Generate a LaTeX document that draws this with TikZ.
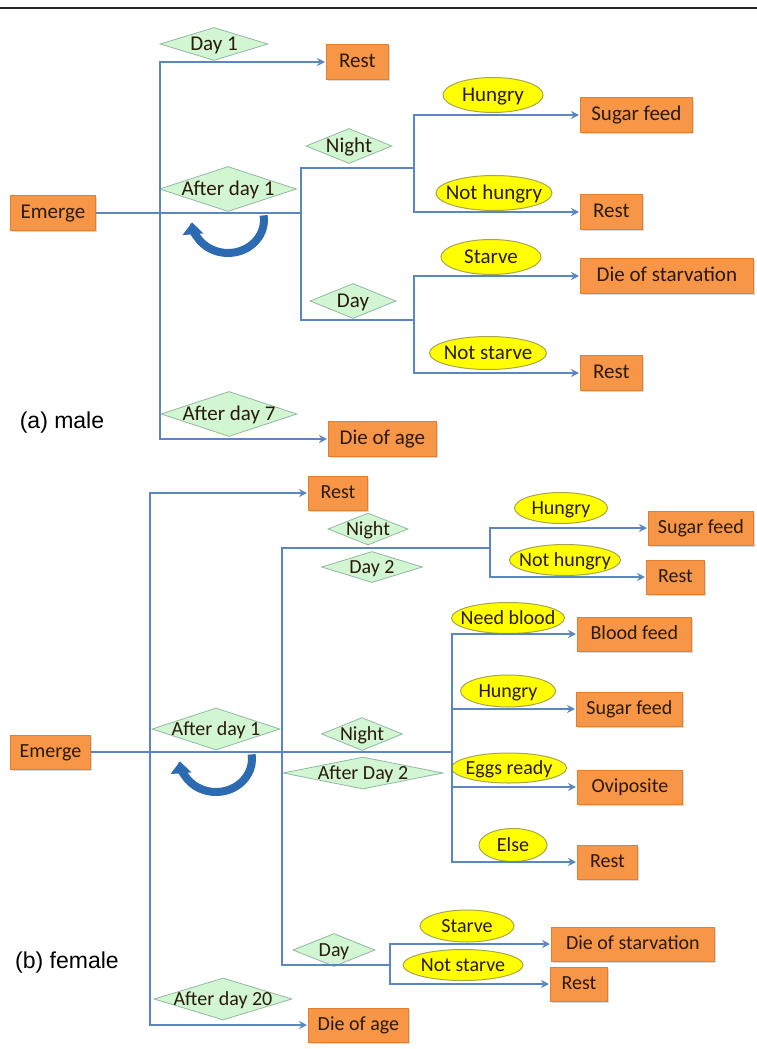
\documentclass[tikz,border=0pt]{standalone}
\usepackage{fontspec}
\setmainfont{Carlito}
\newfontfamily\capfont{Liberation Sans}
\usepackage{tikz}
\usepackage{xcolor}
\usetikzlibrary{shapes.geometric,arrows.meta,shadows}

\definecolor{boxorange}{HTML}{F79646}
\definecolor{boxedge}{HTML}{E3802F}
\definecolor{condgreen}{HTML}{D2F5D2}
\definecolor{condedge}{HTML}{92B8A4}
\definecolor{askyellow}{HTML}{FFFF00}
\definecolor{askedge}{HTML}{A6A64C}
\definecolor{flowblue}{HTML}{5A86C2}
\definecolor{loopblue}{HTML}{2C6AB2}
\definecolor{inktext}{HTML}{2A1A0C}

\newcommand{\zw}[1]{\makebox[0pt]{#1}}

\tikzset{
  act/.style={rectangle, fill=boxorange, draw=boxedge, line width=0.8pt, anchor=west,
    minimum height=35pt, inner sep=0pt, text=inktext, text height=14pt, text depth=4pt,
    drop shadow={shadow xshift=1.5pt, shadow yshift=-1.5pt, opacity=0.3}},
  cond/.style 2 args={diamond, fill=condgreen, draw=condedge, line width=0.8pt, inner sep=0pt,
    minimum width=#1, minimum height=#2, text=inktext, text height=13pt, text depth=0pt},
  ask/.style 2 args={ellipse, fill=askyellow, draw=askedge, line width=1pt, inner sep=0pt,
    minimum width=#1, minimum height=#2, text=inktext, text height=13pt, text depth=0pt},
  link/.style={flowblue, line width=1.8pt},
  arr/.style={link, shorten >=1pt, -{Stealth[length=8pt,width=8pt]}},
  back/.style={loopblue, line width=8pt, -{Triangle[length=12pt,width=20pt]}},
  capt/.style={font=\capfont\fontsize{23}{26}\selectfont}
}

\begin{document}
\begin{tikzpicture}[x=1pt,y=-1pt]
\useasboundingbox (0,0) rectangle (757,1049);
\draw[line width=2pt, black!85] (0,8) -- (757,8);

\begin{scope}[font=\fontsize{21}{25}\selectfont]
\node[act, minimum width=85pt] (m-emerge) at (10,213) {Emerge};
\node[act, minimum width=62pt] (m-rest1) at (326,62) {Rest};
\node[act, minimum width=112pt] (m-sugar) at (580,115) {Sugar feed};
\node[act, minimum width=62pt] (m-rest2) at (580,212) {Rest};
\node[act, minimum width=173pt] (m-starv) at (580,276) {Die of starvation};
\node[act, minimum width=62pt] (m-rest3) at (580,373) {Rest};
\node[act, minimum width=108pt] (m-age) at (328,439) {Die of age};

\node[cond={108pt}{33pt}] (m-day1) at (214,44) {\zw{Day 1}};
\node[cond={137pt}{45pt}] (m-after1) at (228,189) {\zw{After day 1}};
\node[cond={86pt}{35pt}] (m-night) at (349,146) {\zw{Night}};
\node[cond={86pt}{35pt}] (m-day) at (353,301) {\zw{Day}};
\node[cond={136pt}{45pt}] (m-after7) at (229,414) {\zw{After day 7}};

\node[ask={100pt}{35pt}] (m-hungry) at (493,95) {\zw{Hungry}};
\node[ask={116pt}{35pt}] (m-nothungry) at (494,193) {\zw{Not hungry}};
\node[ask={100pt}{35pt}] (m-starve) at (491,257) {\zw{Starve}};
\node[ask={117pt}{33pt}] (m-notstarve) at (488,353) {\zw{Not starve}};

\coordinate (m-split) at (160,213);
\coordinate (m-fork) at (301,213);
\coordinate (m-nfork) at (414,168);
\coordinate (m-dfork) at (414,320);

\draw[link] (m-emerge) -- (m-fork);
\draw[arr] (m-split) |- (m-rest1);
\draw[arr] (m-split) |- (m-age);
\draw[link] (m-fork) |- (m-nfork);
\draw[link] (m-fork) |- (m-dfork);
\draw[arr] (m-nfork) |- (m-sugar);
\draw[arr] (m-nfork) |- (m-rest2);
\draw[arr] (m-dfork) |- (m-starv);
\draw[arr] (m-dfork) |- (m-rest3);

\draw[back] (263.6,215.4) arc[start angle=-8, end angle=176, x radius=36, y radius=33];
\end{scope}

\node[capt] (m-cap) at (62,423) {(a) male};

\begin{scope}[font=\fontsize{20}{24}\selectfont]
\node[act, minimum width=80pt, minimum height=34pt] (f-emerge) at (10,752) {Emerge};
\node[act, minimum width=59pt, minimum height=34pt] (f-rest1) at (308,493) {Rest};
\node[act, minimum width=105pt, minimum height=34pt] (f-sugar1) at (648,528) {Sugar feed};
\node[act, minimum width=58pt, minimum height=34pt] (f-rest2) at (646,577) {Rest};
\node[act, minimum width=114pt, minimum height=34pt] (f-blood) at (577,634) {Blood feed};
\node[act, minimum width=106pt, minimum height=34pt] (f-sugar2) at (576,709) {Sugar feed};
\node[act, minimum width=105pt, minimum height=34pt] (f-ovi) at (577,787) {Oviposite};
\node[act, minimum width=60pt, minimum height=34pt] (f-rest3) at (577,862) {Rest};
\node[act, minimum width=163pt, minimum height=34pt] (f-starv) at (551,944) {Die of starvation};
\node[act, minimum width=57pt, minimum height=34pt] (f-rest4) at (550,984) {Rest};
\node[act, minimum width=100pt, minimum height=34pt] (f-age) at (308,1025) {Die of age};

\node[cond={80pt}{32pt}] (f-night1) at (368,529) {\zw{Night}};
\node[cond={101pt}{31pt}] (f-day2) at (372,567) {\zw{Day 2}};
\node[cond={128pt}{42pt}] (f-after1) at (216,729) {\zw{After day 1}};
\node[cond={81pt}{33pt}] (f-night2) at (362,734) {\zw{Night}};
\node[cond={160pt}{32pt}] (f-after2) at (363,773) {\zw{After Day 2}};
\node[cond={82pt}{33pt}] (f-day) at (334,950) {\zw{Day}};
\node[cond={138pt}{42pt}] (f-after20) at (223,999) {\zw{After day 20}};

\node[ask={93pt}{31pt}] (f-hungry1) at (561,508) {\zw{Hungry}};
\node[ask={111pt}{31pt}] (f-nothungry) at (565,560) {\zw{Not hungry}};
\node[ask={113pt}{31pt}] (f-needblood) at (508,618) {\zw{Need blood}};
\node[ask={95pt}{32pt}] (f-hungry2) at (508,691) {\zw{Hungry}};
\node[ask={115pt}{30pt}] (f-eggs) at (509,768) {\zw{Eggs ready}};
\node[ask={68pt}{33pt}] (f-else) at (513,845) {\zw{Else}};
\node[ask={94pt}{32pt}] (f-starve) at (467,926) {\zw{Starve}};
\node[ask={120pt}{31pt}] (f-notstarve) at (463,965) {\zw{Not starve}};

\coordinate (f-split) at (150,752);
\coordinate (f-fork) at (282,752);
\coordinate (f-hub) at (452,752);
\coordinate (f-nfork) at (490,548);
\coordinate (f-dfork) at (390,965);

\draw[link] (f-emerge) -- (f-hub);
\draw[arr] (f-split) |- (f-rest1);
\draw[arr] (f-split) |- (f-age);
\draw[link] (f-fork) |- (f-nfork);
\draw[link] (f-fork) |- (f-dfork);
\draw[arr] (f-nfork) |- (f-sugar1);
\draw[arr] (f-nfork) |- (f-rest2);
\draw[arr] (f-hub) |- (f-blood);
\draw[arr] (f-hub) |- (f-sugar2);
\draw[arr] (f-hub) |- (f-ovi);
\draw[arr] (f-hub) |- (f-rest3);
\draw[arr] (f-dfork) |- (f-starv);
\draw[arr] (f-dfork) |- (f-rest4);

\draw[back] (251.6,754.4) arc[start angle=-8, end angle=176, x radius=36, y radius=33];
\end{scope}

\node[capt] (f-cap) at (67,963) {(b) female};
\end{tikzpicture}
\end{document}
